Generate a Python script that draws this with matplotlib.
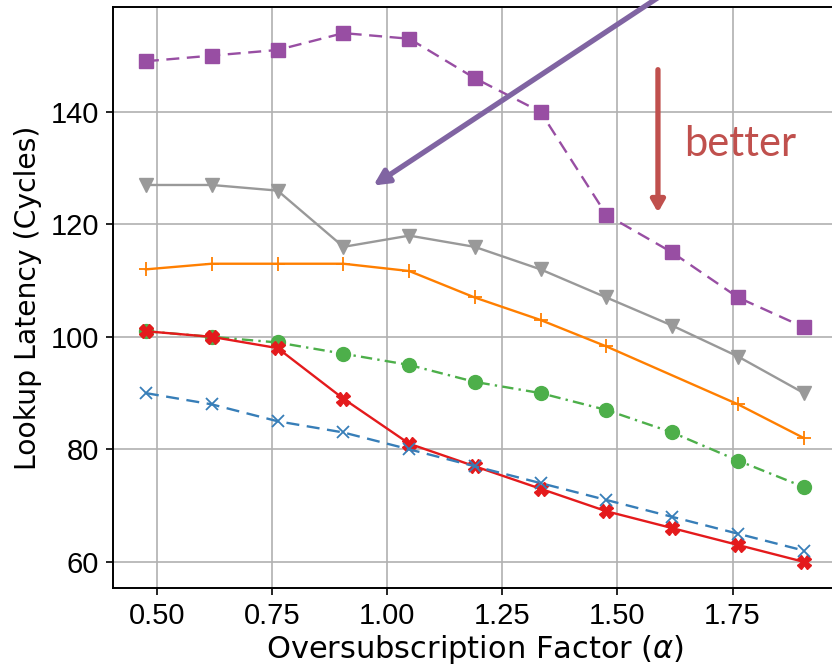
import matplotlib
matplotlib.use("Agg")
import matplotlib.pyplot as plt
import numpy as np

x = [0.476, 0.619, 0.762, 0.905, 1.048, 1.190, 1.333, 1.476, 1.619, 1.762, 1.905]
x_orange = [0.476, 0.619, 0.762, 0.905, 1.048, 1.190, 1.333, 1.476, 1.762, 1.905]

purple = [149, 150, 151, 154, 153, 146, 140, 121.7, 115, 107, 101.7]
gray = [127, 127, 126, 116, 118, 116, 112, 107, 102, 96.5, 90]
orange = [112, 113, 113, 113, 111.7, 107, 103, 98.3, 88, 82]
green = [101, 100, 99, 97, 95, 92, 90, 87, 83, 78, 73.3]
red = [101, 100, 98, 89, 81, 77, 73, 69, 66, 63, 60]
blue = [90, 88, 85, 83, 80, 77, 74, 71, 68, 65, 62]

xticks = [0.50, 0.75, 1.00, 1.25, 1.50, 1.75]
yticks = [60, 80, 100, 120, 140]

fig = plt.figure(figsize=(8.32, 6.67), dpi=100)
ax = fig.add_axes([0.1358, 0.118, 0.870, 0.872])

lw = 1.7
ax.plot(x, purple, color="#984ea3", ls="--", dashes=(5.5, 3.2), lw=lw, marker="s", ms=9.5, zorder=3)
ax.plot(x, gray, color="#999999", ls="-", lw=lw, marker="v", ms=10, zorder=3)
ax.plot(x_orange, orange, color="#ff7f00", ls="-", lw=lw, marker="+", ms=10, mew=1.3, zorder=3)
ax.plot(x, green, color="#4daf4a", ls="-.", dashes=(4.8, 2.2, 1, 2.2), lw=lw, marker="o", ms=10, zorder=3)
ax.plot(x, red, color="#e41a1c", ls="-", lw=lw, marker="X", ms=10, zorder=4)
ax.plot(x, blue, color="#377eb8", ls="--", dashes=(5.5, 3.2), lw=lw, marker="x", ms=9, mew=1.3, zorder=4)

ax.set_xticks(xticks)
ax.set_yticks(yticks)
ax.set_xticklabels(["%.2f" % t for t in xticks])
ax.set_yticklabels([str(t) for t in yticks])
for lab in ax.get_xticklabels() + ax.get_yticklabels():
    lab.set_family("Liberation Sans")
    lab.set_fontsize(21)
ax.tick_params(length=5, width=1.2, pad=5)
ax.grid(True, color="#b0b0b0", lw=1.2)
ax.set_axisbelow(True)
for s in ax.spines.values():
    s.set_linewidth(1.4)

ax.set_xlabel(r"Oversubscription Factor ($\alpha$)", fontsize=22, family="DejaVu Sans", labelpad=2)
ax.set_ylabel("Lookup Latency (Cycles)", fontsize=20.3, family="DejaVu Sans", labelpad=6)

# purple arrow
ax.annotate("", xy=(0.970, 126.9), xytext=(1.636, 162.9), xycoords="data",
            arrowprops=dict(arrowstyle="-|>,head_length=0.9,head_width=0.45", color="#8064a2",
                            lw=3.8, shrinkA=0, shrinkB=0), annotation_clip=False, zorder=5)
# red arrow
ax.annotate("", xy=(1.588, 122.1), xytext=(1.588, 147.5),
            arrowprops=dict(arrowstyle="-|>,head_length=0.7,head_width=0.4", color="#c0504d",
                            lw=3.8, shrinkA=0, shrinkB=0), zorder=5)
ax.text(1.645, 134.2, "better", color="#c0504d", fontsize=30, family="Lato",
        va="center", ha="left", zorder=5)

fig.savefig("out.png", dpi=100)
